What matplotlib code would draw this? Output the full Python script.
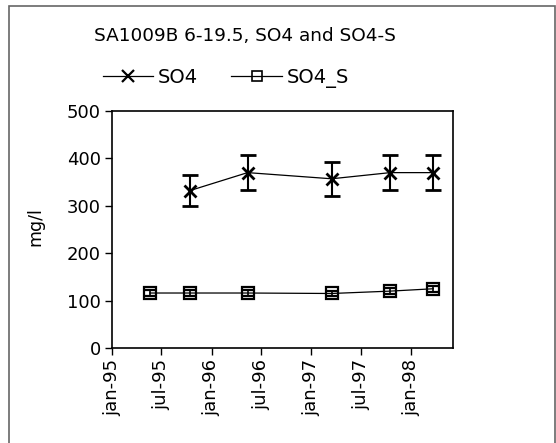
import matplotlib
matplotlib.use("Agg")
import matplotlib.pyplot as plt
import matplotlib.dates as mdates
from matplotlib.patches import Rectangle
from datetime import date

plt.rcParams['font.family'] = ['DejaVu Sans']

# data
so4_dates = [date(1995, 10, 13), date(1996, 5, 12), date(1997, 3, 16),
             date(1997, 10, 17), date(1998, 3, 24)]
so4 = [332, 370, 357, 370, 370]
so4_err = [33, 37, 36, 37, 37]

so4s_dates = [date(1995, 5, 20), date(1995, 10, 13), date(1996, 5, 12),
              date(1997, 3, 16), date(1997, 10, 17), date(1998, 3, 24)]
so4s = [116, 116, 116, 115, 120, 125]
so4s_err = [6, 6, 6, 6, 6, 6]

tick_dates = [date(1995, 1, 1), date(1995, 7, 1), date(1996, 1, 1), date(1996, 7, 1),
              date(1997, 1, 1), date(1997, 7, 1), date(1998, 1, 1)]
tick_labels = ['jan-95', 'jul-95', 'jan-96', 'jul-96', 'jan-97', 'jul-97', 'jan-98']

fig = plt.figure(figsize=(5.56, 4.43), dpi=100)
ax = fig.add_axes([112 / 556, 1 - 348 / 443, (453 - 112) / 556, (348 - 111) / 443])

# outer chart border
fig.patches.append(Rectangle((9 / 556, -0.1), (555 - 9) / 556, 1.1 - 6 / 443,
                             transform=fig.transFigure, fill=False,
                             edgecolor='#666666', linewidth=1.2))

ax.errorbar(so4_dates, so4, yerr=so4_err, color='black', marker='x',
            markersize=9, markeredgewidth=2, linewidth=0.9,
            elinewidth=1.5, capsize=6, capthick=1.5)
ax.errorbar(so4s_dates, so4s, yerr=so4s_err, color='black', marker='s',
            markersize=9, markerfacecolor='none', markeredgewidth=1.6,
            linewidth=0.9, elinewidth=1.2, capsize=5, capthick=1.2)

ax.set_xlim(date(1995, 1, 1), date(1998, 6, 4))
ax.set_ylim(0, 500)
ax.set_yticks([0, 100, 200, 300, 400, 500])
ax.set_xticks([mdates.date2num(d) for d in tick_dates])
ax.set_xticklabels(tick_labels, rotation=90)
ax.tick_params(labelsize=13, length=5, width=1, direction='out', pad=3)
for s in ax.spines.values():
    s.set_linewidth(1.2)

fig.text(245 / 556, 1 - 36 / 443, 'SA1009B 6-19.5, SO4 and SO4-S',
         ha='center', va='center', fontsize=13.3)
fig.text(35 / 556, 1 - 227 / 443, 'mg/l', rotation=90,
         ha='center', va='center', fontsize=12.5)

h1 = plt.Line2D([], [], color='black', marker='x', markersize=8,
                markeredgewidth=1.6, linewidth=0.9)
h2 = plt.Line2D([], [], color='black', marker='s', markersize=7,
                markerfacecolor='none', markeredgewidth=1.2, linewidth=0.9)
fig.legend([h1, h2], ['SO4', 'SO4_S'], ncol=2, frameon=False, fontsize=14,
           loc='center', bbox_to_anchor=(226 / 556, 1 - 78 / 443),
           handlelength=2.6, handletextpad=0.25, columnspacing=1.7)

fig.savefig('out.png', dpi=100)
